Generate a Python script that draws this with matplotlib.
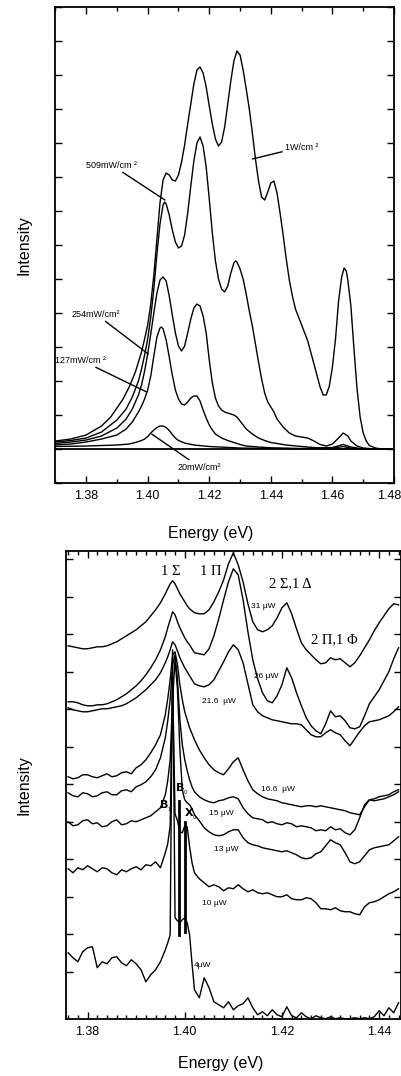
import numpy as np
import matplotlib
matplotlib.use("Agg")
import matplotlib.pyplot as plt
import matplotlib.transforms as mtransforms
from matplotlib.ticker import MultipleLocator, FormatStrFormatter

plt.rcParams['font.family'] = ['Liberation Sans', 'DejaVu Sans']

# -----------------------------------------------------------
# Top panel: PL spectra vs excitation density (smooth)
# -----------------------------------------------------------
e_1w = [1.370, 1.375, 1.380, 1.385, 1.388, 1.390, 1.392, 1.394, 1.396, 1.398, 1.399,
        1.400, 1.401, 1.402, 1.403, 1.404, 1.405, 1.406, 1.407, 1.408, 1.409, 1.410,
        1.411, 1.412, 1.413, 1.414, 1.415, 1.416, 1.417, 1.418, 1.419, 1.420, 1.421,
        1.422, 1.423, 1.424, 1.425, 1.426, 1.427, 1.428, 1.429, 1.430, 1.431, 1.432,
        1.433, 1.434, 1.435, 1.436, 1.437, 1.438, 1.439, 1.440, 1.441, 1.442, 1.443,
        1.444, 1.445, 1.446, 1.447, 1.448, 1.450, 1.452, 1.454, 1.456, 1.457, 1.458,
        1.459, 1.460, 1.461, 1.462, 1.463, 1.4638, 1.4645, 1.465, 1.466, 1.467, 1.468,
        1.469, 1.470, 1.471, 1.472, 1.474, 1.476, 1.480]
i_1w = [0.8, 1.0, 1.4, 2.3, 3.2, 4.1, 5.0, 6.2, 7.7, 9.7, 11.0,
        12.4, 14.5, 17.4, 21.0, 24.6, 26.9, 27.6, 27.4, 26.9, 26.8, 27.4,
        28.7, 30.4, 32.5, 34.5, 36.5, 37.9, 38.2, 37.6, 36.2, 34.3, 32.5,
        31.0, 30.3, 30.7, 32.2, 34.5, 36.8, 38.8, 39.8, 39.4, 37.9, 36.0,
        34.0, 31.6, 29.0, 26.8, 25.2, 24.9, 25.7, 26.6, 26.8, 25.6, 23.6,
        21.4, 19.0, 16.9, 15.3, 14.0, 12.4, 10.8, 8.5, 6.2, 5.4, 5.4,
        6.3, 8.2, 11.0, 14.8, 17.2, 18.1, 17.8, 16.9, 14.3, 10.0, 6.0,
        3.2, 1.6, 0.8, 0.35, 0.1, 0.0, 0.0]

e_509 = [1.370, 1.375, 1.380, 1.385, 1.390, 1.393, 1.395, 1.397, 1.398, 1.399, 1.400,
         1.401, 1.402, 1.403, 1.404, 1.405, 1.4055, 1.406, 1.407, 1.408, 1.409, 1.410,
         1.411, 1.412, 1.413, 1.414, 1.415, 1.416, 1.417, 1.418, 1.419, 1.420, 1.421,
         1.422, 1.423, 1.424, 1.425, 1.426, 1.427, 1.428, 1.4285, 1.429, 1.430, 1.431,
         1.432, 1.433, 1.434, 1.435, 1.436, 1.437, 1.438, 1.439, 1.440, 1.441, 1.442,
         1.444, 1.446, 1.448, 1.450, 1.452, 1.454, 1.456, 1.458, 1.460, 1.462, 1.4635,
         1.465, 1.466, 1.468, 1.470, 1.474, 1.480]
i_509 = [0.7, 0.85, 1.1, 1.7, 2.9, 4.0, 5.2, 6.8, 8.0, 9.4, 11.0,
         13.2, 16.0, 19.5, 22.5, 24.4, 24.7, 24.5, 23.4, 21.9, 20.7, 20.1,
         20.3, 21.4, 23.6, 26.3, 28.8, 30.6, 31.2, 30.3, 28.2, 25.0, 21.6,
         18.8, 17.0, 16.0, 15.7, 16.3, 17.6, 18.6, 18.8, 18.7, 18.0, 17.0,
         15.5, 13.8, 12.3, 10.5, 8.7, 7.0, 5.6, 4.7, 4.2, 3.7, 3.0,
         2.2, 1.6, 1.3, 1.2, 1.1, 0.8, 0.45, 0.3, 0.5, 1.1, 1.6,
         1.3, 0.8, 0.3, 0.1, 0.0, 0.0]

e_254 = [1.370, 1.375, 1.380, 1.385, 1.390, 1.393, 1.395, 1.397, 1.398, 1.399, 1.400,
         1.401, 1.402, 1.403, 1.404, 1.405, 1.406, 1.407, 1.408, 1.409, 1.410, 1.411,
         1.412, 1.413, 1.414, 1.415, 1.416, 1.417, 1.418, 1.419, 1.420, 1.421, 1.422,
         1.423, 1.424, 1.425, 1.426, 1.427, 1.428, 1.429, 1.430, 1.431, 1.432, 1.434,
         1.436, 1.438, 1.440, 1.445, 1.450, 1.455, 1.460, 1.4635, 1.466, 1.470, 1.480]
i_254 = [0.55, 0.7, 0.9, 1.3, 2.1, 3.0, 4.0, 5.4, 6.4, 7.8, 9.5,
         11.5, 13.6, 15.6, 16.9, 17.2, 16.8, 15.3, 13.4, 11.6, 10.3, 9.8,
         10.3, 11.6, 13.0, 14.1, 14.5, 14.3, 13.3, 11.6, 8.9, 6.6, 5.1,
         4.3, 3.9, 3.7, 3.6, 3.5, 3.4, 3.2, 2.8, 2.4, 2.0, 1.5,
         1.1, 0.85, 0.65, 0.4, 0.25, 0.12, 0.15, 0.45, 0.2, 0.0, 0.0]

e_127 = [1.370, 1.375, 1.380, 1.385, 1.390, 1.393, 1.395, 1.397, 1.398, 1.399, 1.400,
         1.401, 1.402, 1.403, 1.404, 1.4045, 1.405, 1.406, 1.407, 1.408, 1.409, 1.410,
         1.411, 1.412, 1.413, 1.414, 1.415, 1.416, 1.417, 1.418, 1.419, 1.420, 1.421,
         1.422, 1.424, 1.426, 1.428, 1.430, 1.432, 1.436, 1.440, 1.450, 1.460, 1.4635,
         1.466, 1.470, 1.480]
i_127 = [0.4, 0.5, 0.7, 1.0, 1.4, 2.0, 2.7, 3.7, 4.3, 5.0, 5.9,
         7.3, 9.3, 11.2, 12.1, 12.2, 12.0, 10.9, 9.2, 7.4, 5.9, 5.0,
         4.5, 4.4, 4.7, 5.1, 5.3, 5.3, 4.8, 3.9, 3.1, 2.4, 1.9,
         1.5, 1.1, 0.85, 0.65, 0.45, 0.3, 0.2, 0.12, 0.05, 0.08, 0.25,
         0.08, 0.0, 0.0]

e_20 = [1.370, 1.380, 1.390, 1.394, 1.396, 1.398, 1.399, 1.400, 1.401, 1.402, 1.403,
        1.404, 1.405, 1.406, 1.407, 1.408, 1.409, 1.410, 1.412, 1.415, 1.420, 1.430,
        1.440, 1.460, 1.480]
i_20 = [0.25, 0.3, 0.4, 0.5, 0.65, 0.85, 1.0, 1.25, 1.6, 1.9, 2.15,
        2.3, 2.3, 2.15, 1.85, 1.45, 1.1, 0.85, 0.6, 0.4, 0.25, 0.1,
        0.05, 0.0, 0.0]

# -----------------------------------------------------------
# Bottom panel: single dot spectra vs power (offset, noisy)
# -----------------------------------------------------------
e_b = [1.376, 1.377, 1.378, 1.379, 1.380, 1.381, 1.382, 1.383, 1.384, 1.385,
       1.386, 1.387, 1.388, 1.389, 1.390, 1.391, 1.392, 1.393, 1.394, 1.395,
       1.396, 1.3965, 1.397, 1.3975, 1.398, 1.3985, 1.399, 1.3995, 1.400, 1.4005,
       1.401, 1.4015, 1.402, 1.403, 1.404, 1.405, 1.406, 1.407, 1.408, 1.409,
       1.410, 1.411, 1.412, 1.413, 1.414, 1.415, 1.416, 1.417, 1.418, 1.419,
       1.420, 1.421, 1.422, 1.423, 1.424, 1.425, 1.426, 1.427, 1.428, 1.429,
       1.430, 1.431, 1.432, 1.433, 1.434, 1.435, 1.436, 1.437, 1.438, 1.439,
       1.440, 1.441, 1.442, 1.443, 1.444]

p31 = [37.3, 37.2, 37.1, 37.0, 37.0, 37.1, 37.2, 37.2, 37.3, 37.5,
       37.7, 38.0, 38.3, 38.6, 38.9, 39.3, 39.7, 40.3, 40.9, 41.6,
       42.5, 43.0, 43.5, 43.8, 43.5, 43.0, 42.5, 42.1, 41.7, 41.3,
       41.0, 40.8, 40.6, 40.5, 40.5, 40.9, 41.7, 42.7, 43.9, 45.5,
       46.6, 45.4, 43.7, 41.5, 39.7, 38.9, 38.7, 38.9, 39.3, 40.1,
       41.1, 41.6, 40.5, 39.0, 37.6, 36.9, 36.4, 35.9, 35.5, 35.6,
       36.1, 35.9, 36.0, 35.6, 35.2, 35.6, 36.3, 37.1, 37.9, 38.8,
       39.6, 40.3, 41.0, 41.5, 41.4]
p26 = [31.7, 31.7, 31.6, 31.4, 31.3, 31.3, 31.4, 31.4, 31.5, 31.7,
       31.9, 32.2, 32.5, 32.9, 33.3, 33.8, 34.4, 35.1, 35.9, 36.9,
       38.2, 39.1, 39.9, 40.7, 40.4, 39.7, 39.1, 38.6, 38.1, 37.7,
       37.4, 37.0, 36.6, 36.5, 36.4, 37.0, 38.3, 40.0, 41.9, 43.7,
       45.0, 44.4, 41.9, 38.7, 35.9, 34.0, 32.6, 31.8, 31.6, 32.3,
       33.4, 35.1, 34.1, 32.6, 31.3, 30.1, 29.3, 28.8, 28.5, 29.5,
       30.8, 30.2, 30.3, 29.8, 29.1, 29.0, 29.2, 30.3, 31.5, 32.2,
       32.9, 33.8, 34.7, 36.0, 37.1]
p216 = [31.1, 30.9, 30.8, 30.7, 30.7, 30.8, 30.9, 31.0, 31.0, 31.1,
        31.2, 31.3, 31.5, 31.8, 32.1, 32.5, 32.9, 33.4, 33.9, 34.6,
        35.6, 36.2, 36.9, 37.7, 37.4, 36.8, 36.1, 35.6, 35.1, 34.7,
        34.3, 33.9, 33.5, 33.3, 33.2, 33.4, 33.9, 34.8, 35.7, 36.7,
        37.4, 36.9, 35.6, 33.5, 31.4, 30.7, 30.3, 30.1, 29.9, 29.8,
        29.7, 29.6, 29.5, 29.5, 29.4, 28.9, 28.4, 28.2, 28.2, 28.6,
        28.9, 28.6, 28.4, 27.8, 27.3, 28.0, 28.7, 29.3, 29.7, 29.8,
        29.9, 30.1, 30.3, 30.7, 31.2]
p166 = [24.2, 24.0, 24.1, 24.4, 24.4, 24.2, 24.1, 24.3, 24.5, 24.2,
        24.3, 24.6, 24.7, 24.5, 25.1, 25.4, 25.9, 26.6, 27.4, 28.4,
        30.4, 32.0, 33.9, 36.4, 36.7, 35.4, 33.4, 31.9, 30.7, 29.9,
        29.1, 28.5, 27.9, 26.9, 26.1, 25.4, 24.9, 24.6, 24.4, 25.0,
        25.7, 26.1, 24.9, 23.8, 22.9, 22.5, 22.2, 22.0, 21.9, 21.8,
        21.6, 21.5, 21.4, 21.3, 21.2, 21.3, 21.3, 21.2, 21.3, 21.2,
        21.1, 21.0, 20.9, 20.8, 20.6, 20.5, 20.4, 21.2, 21.9, 22.0,
        22.2, 22.3, 22.4, 22.7, 22.9]
p15 = [22.6, 22.3, 22.2, 22.6, 22.5, 22.2, 22.3, 22.6, 22.7, 22.4,
       22.4, 22.8, 22.9, 22.7, 23.2, 23.4, 23.7, 24.2, 24.9, 26.1,
       28.1, 29.8, 31.9, 35.4, 36.4, 33.9, 29.9, 27.4, 25.9, 24.8,
       23.9, 23.2, 22.7, 22.2, 21.9, 21.7, 21.6, 21.8, 21.9, 22.1,
       22.2, 22.0, 21.1, 20.5, 20.1, 20.0, 19.9, 19.6, 19.7, 19.5,
       19.4, 19.6, 19.5, 19.2, 19.3, 19.2, 19.1, 18.8, 18.9, 18.8,
       19.2, 18.9, 19.0, 18.6, 18.4, 18.9, 20.1, 21.4, 21.9, 21.8,
       21.9, 22.0, 22.2, 22.4, 22.7]
p13 = [19.7, 19.3, 19.4, 19.8, 19.9, 19.5, 19.6, 19.2, 19.3, 19.7,
       19.9, 19.4, 19.5, 19.8, 19.7, 19.9, 20.1, 20.3, 20.7, 21.1,
       22.4, 23.8, 25.9, 31.9, 35.9, 33.0, 26.9, 22.9, 21.9, 21.6,
       21.4, 21.0, 20.4, 19.8, 19.1, 18.7, 18.4, 18.3, 18.4, 18.7,
       18.9, 18.9, 18.1, 17.6, 17.4, 17.3, 17.1, 17.0, 16.9, 16.8,
       16.7, 16.8, 16.6, 16.4, 16.1, 16.0, 16.1, 16.5, 16.7, 17.3,
       17.9, 17.6, 17.4, 16.6, 15.7, 15.5, 15.7, 16.3, 16.9, 17.1,
       17.2, 17.3, 17.4, 17.8, 18.2]
p10 = [15.0, 14.6, 15.1, 14.9, 15.3, 15.0, 14.7, 15.1, 15.0, 14.6,
       14.4, 14.9, 14.7, 15.0, 15.2, 14.9, 15.4, 15.3, 15.7, 15.1,
       16.6, 17.5, 19.3, 34.0, 20.5, 19.8, 18.7, 18.6, 19.3, 19.2,
       17.2, 15.6, 14.6, 14.0, 13.6, 13.2, 13.4, 13.2, 12.8, 13.1,
       13.0, 13.4, 13.0, 12.7, 12.9, 12.6, 12.5, 12.6, 12.4, 12.2,
       12.2, 12.4, 12.0, 11.9, 11.9, 12.1, 12.0, 11.6, 11.0, 11.0,
       10.9, 11.1, 10.8, 10.7, 10.7, 10.5, 10.4, 11.2, 11.6, 11.7,
       11.9, 12.2, 12.5, 12.7, 13.0]
p4 = [6.6, 6.1, 5.7, 6.7, 7.1, 7.2, 5.1, 5.7, 5.5, 6.1,
      6.2, 5.6, 5.3, 5.9, 5.5, 4.9, 3.7, 4.4, 4.9, 5.7,
      6.9, 7.6, 8.4, 36.9, 10.1, 9.8, 9.6, 9.9, 10.1, 9.6,
      8.4, 5.5, 2.9, 2.1, 4.1, 3.1, 1.7, 1.4, 1.1, 1.7,
      0.9, 1.3, 1.5, 2.1, 1.1, 0.4, 0.7, 0.3, 0.9, 0.4,
      0.2, 1.2, 0.3, 0.1, 0.6, 0.2, 0.0, 0.3, 0.1, 0.0,
      0.2, 0.0, 0.1, 0.0, 0.0, 0.1, 0.0, 0.1, 0.0, 0.2,
      0.8, 0.3, 1.1, 0.6, 1.6]

# marker bars for B0 and X0 (energy, low, high)
bar_e = [1.3988, 1.4001]
bar_lo = [8.4, 8.7]
bar_hi = [21.8, 19.7]

fig = plt.figure(figsize=(4.02, 10.76), dpi=100)

# ---------------- top panel ----------------
ax1 = fig.add_axes([0.1376, 0.5511, 0.8425, 0.4424])
for e, i in [(e_1w, i_1w), (e_509, i_509), (e_254, i_254), (e_127, i_127), (e_20, i_20)]:
    ax1.plot(e, i, color='black', lw=1.0)
ax1.axhline(0, color='black', lw=1.3)
ax1.set_xlim(1.37, 1.48)
ax1.set_ylim(-3.4, 44.2)
ax1.xaxis.set_major_locator(MultipleLocator(0.02))
ax1.xaxis.set_minor_locator(MultipleLocator(0.01))
ax1.xaxis.set_major_formatter(FormatStrFormatter('%.2f'))
ax1.yaxis.set_major_locator(MultipleLocator(3.4))
ax1.set_yticklabels([])
ax1.tick_params(direction='in', top=True, right=True, length=5, width=1, labelsize=9, pad=5)
ax1.tick_params(which='minor', direction='in', top=True, right=True, length=3, width=1)
ax1.set_xlabel('Energy (eV)', fontsize=11.5)
ax1.xaxis.set_label_coords(0.458, -0.090)
ax1.set_ylabel('Intensity', fontsize=11.5)
ax1.yaxis.set_label_coords(-0.070, 0.5)

# keep the last tick label (1.48) inside the figure
fig.canvas.draw()
shift = mtransforms.ScaledTranslation(-4.5 / 100, 0, fig.dpi_scale_trans)
last = ax1.get_xticklabels()[-1]
for lbl in ax1.get_xticklabels():
    if lbl.get_text() == '1.48':
        lbl.set_transform(lbl.get_transform() + shift)

lab = dict(fontsize=6.5, arrowprops=dict(arrowstyle='-', color='black', lw=1.0, shrinkA=0, shrinkB=0))
ax1.annotate('1W/cm ²', xy=(1.4340, 29.0), xytext=(1.4446, 30.2), va='center', **lab)
ax1.annotate('509mW/cm ²', xy=(1.4056, 24.9), xytext=(1.3800, 28.4), va='center', **lab)
ax1.annotate('254mW/cm²', xy=(1.4002, 9.5), xytext=(1.3753, 13.5), va='center', **lab)
ax1.annotate('127mW/cm ²', xy=(1.3997, 5.7), xytext=(1.3700, 8.9), va='center', **lab)
ax1.annotate('20mW/cm²', xy=(1.4013, 1.5), xytext=(1.4098, -1.8), va='center', **lab)
for sp in ax1.spines.values():
    sp.set_linewidth(1.3)

# ---------------- bottom panel ----------------
ax2 = fig.add_axes([0.1634, 0.0532, 0.8341, 0.4349])
for p in [p31, p26, p216, p166, p15, p13, p10, p4]:
    ax2.plot(e_b, p, color='black', lw=1.0)
for e, lo, hi in zip(bar_e, bar_lo, bar_hi):
    ax2.plot([e, e], [lo, hi], color='black', lw=2.0)
ax2.set_xlim(1.3755, 1.4445)
ax2.set_ylim(0, 46.8)
ax2.xaxis.set_major_locator(MultipleLocator(0.02))
ax2.xaxis.set_minor_locator(MultipleLocator(0.002))
ax2.xaxis.set_major_formatter(FormatStrFormatter('%.2f'))
ax2.set_yticks([4.7 + 3.75 * k for k in range(12)])
ax2.set_yticklabels([])
ax2.tick_params(direction='in', top=True, right=True, length=5, width=1, labelsize=9, pad=5)
ax2.tick_params(which='minor', direction='in', top=True, right=True, length=3, width=1)
ax2.set_xlabel('Energy (eV)', fontsize=11.5)
ax2.xaxis.set_label_coords(0.462, -0.080)
ax2.set_ylabel('Intensity', fontsize=11.5)
ax2.yaxis.set_label_coords(-0.102, 0.5)
for sp in ax2.spines.values():
    sp.set_linewidth(1.3)

serif = ['Liberation Serif', 'DejaVu Serif']
ax2.text(1.39722, 44.7, '1 Σ', family=serif, fontsize=10.5, ha='center', va='center')
ax2.text(1.4053, 44.7, '1 Π', family=serif, fontsize=10.5, ha='center', va='center')
ax2.text(1.42161, 43.5, '2 Σ,1 Δ', family=serif, fontsize=10.5, ha='center', va='center')
ax2.text(1.43072, 37.9, '2 Π,1 Φ', family=serif, fontsize=10.5, ha='center', va='center')

small = dict(fontsize=6, va='center')
ax2.text(1.41355, 41.2, '31 µW', **small)
ax2.text(1.41423, 34.2, '26 µW', **small)
ax2.text(1.40357, 31.7, '21.6  µW', **small)
ax2.text(1.41567, 22.9, '16.6  µW', **small)
ax2.text(1.40495, 20.5, '15 µW', **small)
ax2.text(1.40598, 16.9, '13 µW', **small)
ax2.text(1.40357, 11.5, '10 µW', **small)
ax2.text(1.40186, 5.3, '4µW', **small)

ax2.text(1.39464, 21.2, r'$\mathbf{B}_{_1}$', fontsize=8, va='center')
ax2.text(1.39794, 22.9, r'$\mathbf{B}_{_0}$', fontsize=8, va='center')
ax2.text(1.39979, 20.4, r'$\mathbf{X}_{_0}$', fontsize=8, va='center')

fig.savefig('out.png', dpi=100)
